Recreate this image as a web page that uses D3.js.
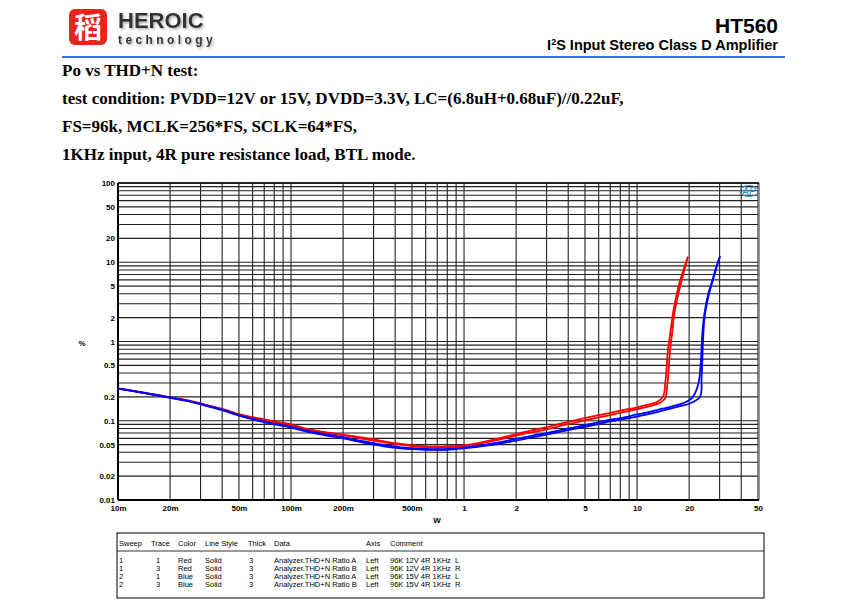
<!DOCTYPE html>
<html><head><meta charset="utf-8">
<script src="https://cdn.jsdelivr.net/npm/d3@7"></script>
<style>
body{margin:0;background:#fff;}
svg text{font-family:"Liberation Sans",Arial,sans-serif;}
</style></head>
<body><svg id="c" width="848" height="609"></svg>
<script>
// ---------- data ----------
const xTicks = [0.01,0.02,0.05,0.1,0.2,0.5,1,2,5,10,20,50];
const xTickLabels = ["10m","20m","50m","100m","200m","500m","1","2","5","10","20","50"];
const yTicks = [0.01,0.02,0.05,0.1,0.2,0.5,1,2,5,10,20,50,100];
const yTickLabels = ["0.01","0.02","0.05","0.1","0.2","0.5","1","2","5","10","20","50","100"];

const redL_P   = [0.01,0.012,0.015,0.02,0.025,0.03,0.04,0.05,0.06,0.07,0.08,0.1,0.12,0.15,0.2,0.25,0.3,0.4,0.5,0.6,0.7,0.8,1,1.2,1.5,2,2.5,3,4,5,6,7,8,10,12,13,14.1,14.6,15.1,15.5,16.2,17.7,19.7];
const redL_THD = [0.255,0.24,0.222,0.198,0.182,0.166,0.141,0.121,0.111,0.104,0.098,0.09,0.08,0.073,0.067,0.062,0.058,0.052,0.049,0.0475,0.047,0.0475,0.049,0.052,0.058,0.068,0.076,0.083,0.097,0.108,0.118,0.126,0.134,0.148,0.163,0.172,0.2,0.32,0.8,1.2,2.4,5.8,11.8];
const redR_P   = [0.01,0.012,0.015,0.02,0.025,0.03,0.04,0.05,0.06,0.07,0.08,0.1,0.12,0.15,0.2,0.25,0.3,0.4,0.5,0.6,0.7,0.8,1,1.2,1.5,2,2.5,3,4,5,6,7,8,10,12,13.5,14.5,15,15.5,15.9,16.5,18,19.6];
const redR_THD = [0.254,0.238,0.22,0.196,0.18,0.164,0.139,0.119,0.108,0.101,0.095,0.088,0.079,0.072,0.066,0.06,0.056,0.051,0.048,0.0465,0.046,0.0465,0.048,0.051,0.056,0.065,0.072,0.078,0.091,0.101,0.11,0.118,0.126,0.14,0.154,0.168,0.19,0.3,0.75,1.2,2.4,5.6,11.5];
const blueL_P   = [0.01,0.012,0.015,0.02,0.025,0.03,0.04,0.05,0.06,0.07,0.08,0.1,0.12,0.15,0.2,0.25,0.3,0.4,0.5,0.6,0.7,0.8,1,1.2,1.5,2,2.5,3,4,5,6,7,8,10,12,14,16,18,20.8,22.5,23.3,23.8,24.4,25.8,27,28.6,30.2];
const blueL_THD = [0.256,0.24,0.22,0.197,0.18,0.163,0.138,0.118,0.106,0.098,0.092,0.084,0.076,0.069,0.062,0.056,0.052,0.047,0.045,0.044,0.0437,0.044,0.046,0.048,0.052,0.059,0.065,0.07,0.08,0.088,0.096,0.103,0.108,0.12,0.13,0.142,0.152,0.163,0.195,0.28,0.5,1.2,2.1,4,5.5,8.5,12];
const blueR_P   = [0.01,0.012,0.015,0.02,0.025,0.03,0.04,0.05,0.06,0.07,0.08,0.1,0.12,0.15,0.2,0.25,0.3,0.4,0.5,0.6,0.7,0.8,1,1.2,1.5,2,2.5,3,4,5,6,7,8,10,12,14,16,18,20,23.1,23.6,24.1,24.6,26.2,27.2,28.8,30];
const blueR_THD = [0.255,0.239,0.219,0.195,0.178,0.161,0.136,0.116,0.104,0.096,0.09,0.082,0.074,0.067,0.06,0.054,0.05,0.0455,0.0438,0.043,0.0428,0.043,0.045,0.047,0.05,0.056,0.062,0.067,0.076,0.084,0.091,0.098,0.103,0.113,0.123,0.134,0.144,0.154,0.164,0.2,0.36,1.1,2.1,4.2,5.6,8.6,11.6];

const series = [
  {name:"redL", color:"#ff0000", P:redL_P, T:redL_THD},
  {name:"redR", color:"#ff0000", P:redR_P, T:redR_THD},
  {name:"blueL", color:"#0000ff", P:blueL_P, T:blueL_THD},
  {name:"blueR", color:"#0000ff", P:blueR_P, T:blueR_THD}
];

const legendHeader = ["Sweep","Trace","Color","Line Style","Thick","Data","Axis","Comment"];
const legendRows = [
  ["1","1","Red","Solid","3","Analyzer.THD+N Ratio A","Left","96K 12V 4R 1KHz  L"],
  ["1","3","Red","Solid","3","Analyzer.THD+N Ratio B","Left","96K 12V 4R 1KHz  R"],
  ["2","1","Blue","Solid","3","Analyzer.THD+N Ratio A","Left","96K 15V 4R 1KHz  L"],
  ["2","3","Blue","Solid","3","Analyzer.THD+N Ratio B","Left","96K 15V 4R 1KHz  R"]
];

const textLines = [
  "Po vs THD+N test:",
  "test condition: PVDD=12V or 15V, DVDD=3.3V, LC=(6.8uH+0.68uF)//0.22uF,",
  "FS=96k, MCLK=256*FS, SCLK=64*FS,",
  "1KHz input, 4R pure resistance load, BTL mode."
];

// ---------- drawing ----------
const svg = d3.select("#c");
const defs = svg.append("defs");
const f = defs.append("filter").attr("id","sh").attr("x","-5%").attr("y","-20%").attr("width","115%").attr("height","150%");
f.append("feDropShadow").attr("dx",1.5).attr("dy",1.5).attr("stdDeviation",0.8).attr("flood-color","#999").attr("flood-opacity",0.8);

// header logo
const logo = svg.append("g");
logo.append("rect").attr("x",69).attr("y",9).attr("width",38).attr("height",36).attr("rx",6)
  .attr("fill","#e8231c");
logo.append("text").attr("x",88).attr("y",38).attr("text-anchor","middle")
  .attr("font-weight","bold").attr("font-size",28)
  .attr("fill","#fff").style("font-family","'Noto Sans CJK SC'").text("稻");
svg.append("text").attr("x",118).attr("y",28).attr("font-size",22).attr("font-weight","bold")
  .attr("fill","#333").attr("filter","url(#sh)").text("HEROIC");
svg.append("text").attr("x",118).attr("y",44).attr("font-size",12).attr("font-weight","bold")
  .attr("fill","#333").attr("letter-spacing",3.4).attr("filter","url(#sh)").text("technology");
svg.append("rect").attr("x",62).attr("y",56).attr("width",723).attr("height",2).attr("fill","#3a6df0");
svg.append("text").attr("x",778).attr("y",33).attr("text-anchor","end").attr("font-size",21)
  .attr("font-weight","bold").attr("fill","#000").text("HT560");
const sub = svg.append("text").attr("x",778).attr("y",50).attr("text-anchor","end").attr("font-size",14.5)
  .attr("font-weight","bold").attr("fill","#000");
sub.append("tspan").text("I");
sub.append("tspan").attr("font-size",9).attr("dy",-5).text("2");
sub.append("tspan").attr("dy",5).text("S Input Stereo Class D Amplifier");

// text lines
const tl = [76,104,132,160];
textLines.forEach((t,i)=>{
  svg.append("text").attr("x",62).attr("y",tl[i]).attr("font-size",17).attr("font-weight","bold")
    .style("font-family","'Liberation Serif','Times New Roman',serif").attr("fill","#000").text(t);
});

// chart
const L=118, R=758, T=183, B=500;
const x = d3.scaleLog().domain([0.01,50]).range([L,R]);
const y = d3.scaleLog().domain([0.01,100]).range([B,T]);

const grid = svg.append("g");
const xGrid=[], yGrid=[];
for (let e=-2;e<=1;e++) for (let m=1;m<=9;m++){ const v=m*Math.pow(10,e); if(v>=0.01&&v<=50) xGrid.push(v);}
for (let e=-2;e<=1;e++) for (let m=1;m<=9;m++){ yGrid.push(m*Math.pow(10,e)); }
yGrid.push(100);
grid.selectAll("line.vx").data(xGrid).join("line")
  .attr("x1",d=>x(d)).attr("x2",d=>x(d)).attr("y1",T).attr("y2",B)
  .attr("stroke","#222").attr("stroke-width",1.1);
grid.selectAll("line.hy").data(yGrid).join("line").attr("class","hy")
  .attr("x1",L).attr("x2",R).attr("y1",d=>y(d)).attr("y2",d=>y(d))
  .attr("stroke","#222").attr("stroke-width",1.1);
svg.append("line").attr("x1",R+1).attr("x2",R+1).attr("y1",T).attr("y2",B).attr("stroke","#777").attr("stroke-width",1.5);
svg.append("line").attr("x1",L).attr("x2",R+1).attr("y1",T).attr("y2",T).attr("stroke","#000").attr("stroke-width",1.5);
svg.append("line").attr("x1",L).attr("x2",L).attr("y1",T).attr("y2",B).attr("stroke","#000").attr("stroke-width",2);
svg.append("line").attr("x1",L).attr("x2",R+1).attr("y1",B).attr("y2",B).attr("stroke","#000").attr("stroke-width",2);

const yAxis = d3.axisLeft(y).tickValues(yTicks).tickFormat((d,i)=>yTickLabels[i]).tickSize(0).tickPadding(3);
const gy = svg.append("g").attr("transform",`translate(${L},0)`).call(yAxis);
gy.select(".domain").remove();
gy.selectAll("text").attr("font-size",8).attr("font-weight","bold").attr("fill","#000")
  .style("font-family","'Liberation Sans',Arial,sans-serif");
const xAxis = d3.axisBottom(x).tickValues(xTicks).tickFormat((d,i)=>xTickLabels[i]).tickSize(0).tickPadding(5);
const gx = svg.append("g").attr("transform",`translate(0,${B})`).call(xAxis);
gx.select(".domain").remove();
gx.selectAll("text").attr("font-size",8).attr("font-weight","bold").attr("fill","#000")
  .style("font-family","'Liberation Sans',Arial,sans-serif");
svg.append("text").attr("x",437).attr("y",523).attr("text-anchor","middle").attr("font-size",8).attr("font-weight","bold").text("W");
svg.append("text").attr("x",82).attr("y",346).attr("text-anchor","middle").attr("font-size",8).attr("font-weight","bold").text("%");

// AP logo
svg.append("ellipse").attr("cx",749).attr("cy",191).attr("rx",9).attr("ry",5.5)
  .attr("fill","none").attr("stroke","#2a8fd0").attr("stroke-width",1);
svg.append("text").attr("x",749).attr("y",195).attr("text-anchor","middle").attr("font-size",10)
  .attr("font-style","italic").attr("fill","#2a8fd0").text("AP");

// curves
series.forEach(s=>{
  const pts = s.P.map((p,i)=>[p,s.T[i]]);
  svg.append("path").datum(pts).attr("d", d3.line().x(d=>x(d[0])).y(d=>y(d[1])).curve(d3.curveCatmullRom.alpha(0.5)))
    .attr("fill","none").attr("stroke",s.color).attr("stroke-width",1.8).attr("stroke-linejoin","round");
});

// legend table
svg.append("rect").attr("x",117).attr("y",533).attr("width",647).attr("height",65)
  .attr("fill","none").attr("stroke","#000").attr("stroke-width",1);
svg.append("line").attr("x1",117).attr("x2",764).attr("y1",551).attr("y2",551).attr("stroke","#000").attr("stroke-width",0.8);
const colX = [119,151,178,205,248,274,366,390];
const colXv = [119,156,178,205,249,274,366,390];
legendHeader.forEach((h,i)=>{
  svg.append("text").attr("x",colX[i]).attr("y",546).attr("font-size",7.5).attr("fill","#000").text(h);
});
const rowY=[563,571,579,587];
legendRows.forEach((r,ri)=>{
  r.forEach((c,ci)=>{
    svg.append("text").attr("x",colXv[ci]).attr("y",rowY[ri]).attr("font-size",7.5)
      .attr("fill","#000").style("white-space","pre").text(c);
  });
});
</script></body></html>
